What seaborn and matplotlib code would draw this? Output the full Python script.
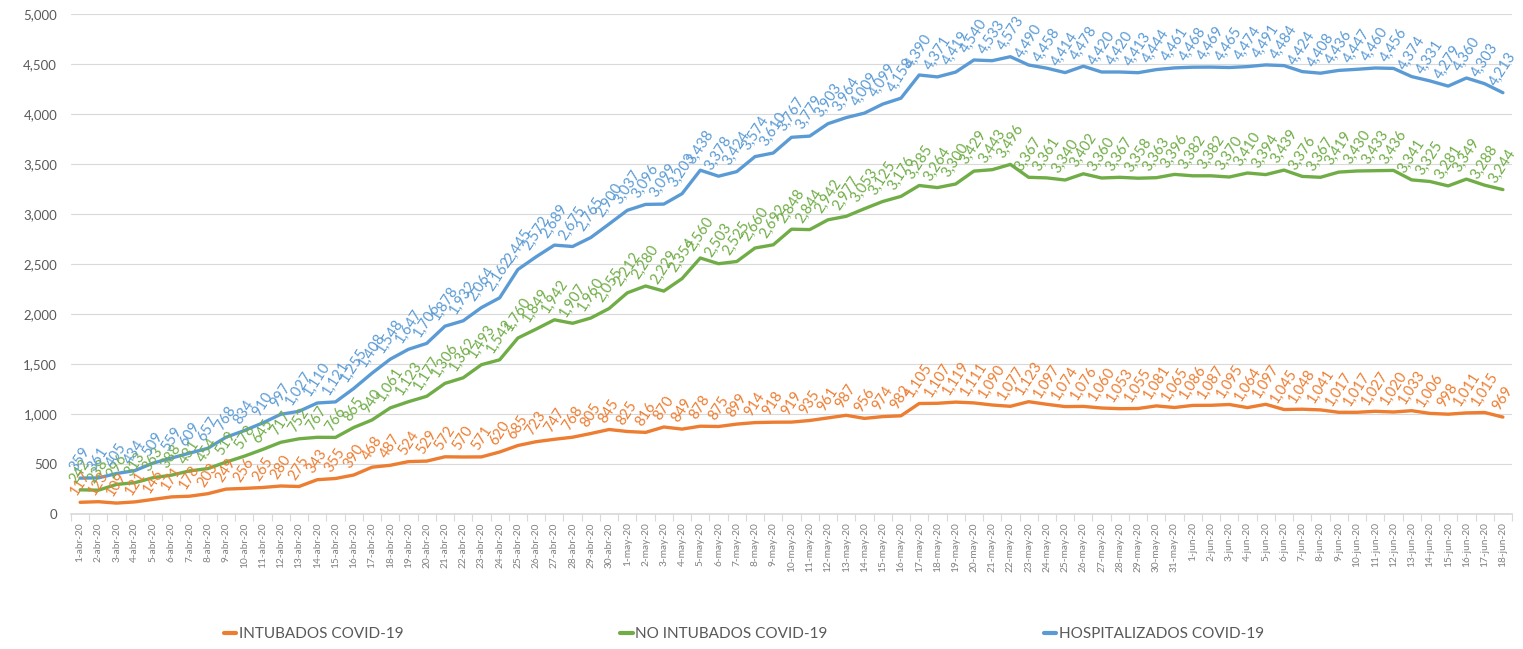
import matplotlib
matplotlib.use("Agg")
import matplotlib.pyplot as plt
import numpy as np
import pandas as pd
import seaborn as sns
from matplotlib.ticker import FuncFormatter
from matplotlib.lines import Line2D

# ---- categories ----
fechas = ([f"{d}-abr-20" for d in range(1, 31)]
          + [f"{d}-may-20" for d in range(1, 32)]
          + [f"{d}-jun-20" for d in range(1, 19)])

# ---- series ----
intubados = [117, 123, 109, 121, 146, 171, 178, 203, 249, 256,
             265, 280, 275, 343, 355, 390, 468, 487, 524, 529,
             572, 570, 571, 620, 685, 723, 747, 768, 805, 845,
             825, 816, 870, 849, 878, 875, 899, 914, 918, 919,
             935, 961, 987, 956, 974, 982, 1105, 1107, 1119, 1111,
             1090, 1077, 1123, 1097, 1074, 1076, 1060, 1053, 1055, 1081,
             1065, 1086, 1087, 1095, 1064, 1097, 1045, 1048, 1041, 1017,
             1017, 1027, 1020, 1033, 1006, 998, 1011, 1015, 969]

no_intubados = [242, 238, 296, 313, 363, 388, 431, 454, 519, 578,
                645, 717, 752, 767, 766, 865, 940, 1061, 1123, 1177,
                1306, 1362, 1493, 1542, 1760, 1849, 1942, 1907, 1960, 2055,
                2212, 2280, 2229, 2354, 2560, 2503, 2525, 2660, 2692, 2848,
                2844, 2942, 2977, 3053, 3125, 3176, 3285, 3264, 3300, 3429,
                3443, 3496, 3367, 3361, 3340, 3402, 3360, 3367, 3358, 3363,
                3396, 3382, 3382, 3370, 3410, 3394, 3439, 3376, 3367, 3419,
                3430, 3433, 3436, 3341, 3325, 3281, 3349, 3288, 3244]

hospitalizados = [359, 361, 405, 434, 509, 559, 609, 657, 768, 834,
                  910, 997, 1027, 1110, 1121, 1255, 1408, 1548, 1647, 1706,
                  1878, 1932, 2064, 2162, 2445, 2572, 2689, 2675, 2765, 2900,
                  3037, 3096, 3099, 3203, 3438, 3378, 3424, 3574, 3610, 3767,
                  3779, 3903, 3964, 4009, 4099, 4158, 4390, 4371, 4419, 4540,
                  4533, 4573, 4490, 4458, 4414, 4478, 4420, 4420, 4413, 4444,
                  4461, 4468, 4469, 4465, 4474, 4491, 4484, 4424, 4408, 4436,
                  4447, 4460, 4456, 4374, 4331, 4279, 4360, 4303, 4213]

series_names = ["INTUBADOS COVID-19", "NO INTUBADOS COVID-19", "HOSPITALIZADOS COVID-19"]
series_vals = [intubados, no_intubados, hospitalizados]
colores = ["#ED7D31", "#70AD47", "#5B9BD5"]
y_ticks = [0, 500, 1000, 1500, 2000, 2500, 3000, 3500, 4000, 4500, 5000]

sns.set_theme(style="white")
plt.rcParams["font.family"] = ["Lato", "DejaVu Sans"]

W, H = 1523, 649
fig = plt.figure(figsize=(W / 100, H / 100), dpi=100)
ax = fig.add_axes([71 / W, 1 - 514 / H, 1441 / W, 500 / H])

rows = []
for name, vals in zip(series_names, series_vals):
    for i, v in enumerate(vals):
        rows.append({"idx": i, "valor": v, "serie": name})
df = pd.DataFrame(rows)

sns.lineplot(data=df, x="idx", y="valor", hue="serie", hue_order=series_names,
             palette=dict(zip(series_names, colores)), linewidth=2.4,
             ax=ax, legend=False)

for name, vals, c in zip(series_names, series_vals, colores):
    for i, v in enumerate(vals):
        ax.annotate(f"{v:,}", (i, v), xytext=(0, 3), textcoords="offset points",
                    rotation=57, ha="center", va="bottom", fontsize=10.5,
                    color=c, annotation_clip=False)

ax.set_xlim(-0.5, len(fechas) - 0.5)
ax.set_ylim(0, 5000)
ax.set_yticks(y_ticks)
ax.yaxis.set_major_formatter(FuncFormatter(lambda v, p: f"{v:,.0f}"))
ax.set_xticks(range(len(fechas)))
ax.set_xticklabels(fechas, rotation=90, fontsize=7.3, color="#808080")
ax.set_xticks(np.arange(-0.5, len(fechas), 1), minor=True)
ax.tick_params(axis="x", which="major", length=0, pad=6)
ax.tick_params(axis="x", which="minor", length=5, color="#D9D9D9", width=0.8, bottom=True)
ax.tick_params(axis="y", length=0, pad=10, labelsize=9.5, labelcolor="#595959")
ax.set_xlabel("")
ax.set_ylabel("")
for s in ["top", "right", "left"]:
    ax.spines[s].set_visible(False)
ax.spines["bottom"].set_color("#D9D9D9")
ax.yaxis.grid(True, color="#D9D9D9", linewidth=0.8)
ax.xaxis.grid(False)
ax.set_axisbelow(True)

handles = [Line2D([0], [0], color=c, lw=3) for c in colores]
fig.legend(handles, series_names, loc="center", bbox_to_anchor=(744 / W, 1 - 634 / H),
           ncol=3, frameon=False, fontsize=11, handlelength=0.8,
           handletextpad=0.15, columnspacing=14.2, labelcolor="#595959")

fig.savefig("out.png", dpi=100)
